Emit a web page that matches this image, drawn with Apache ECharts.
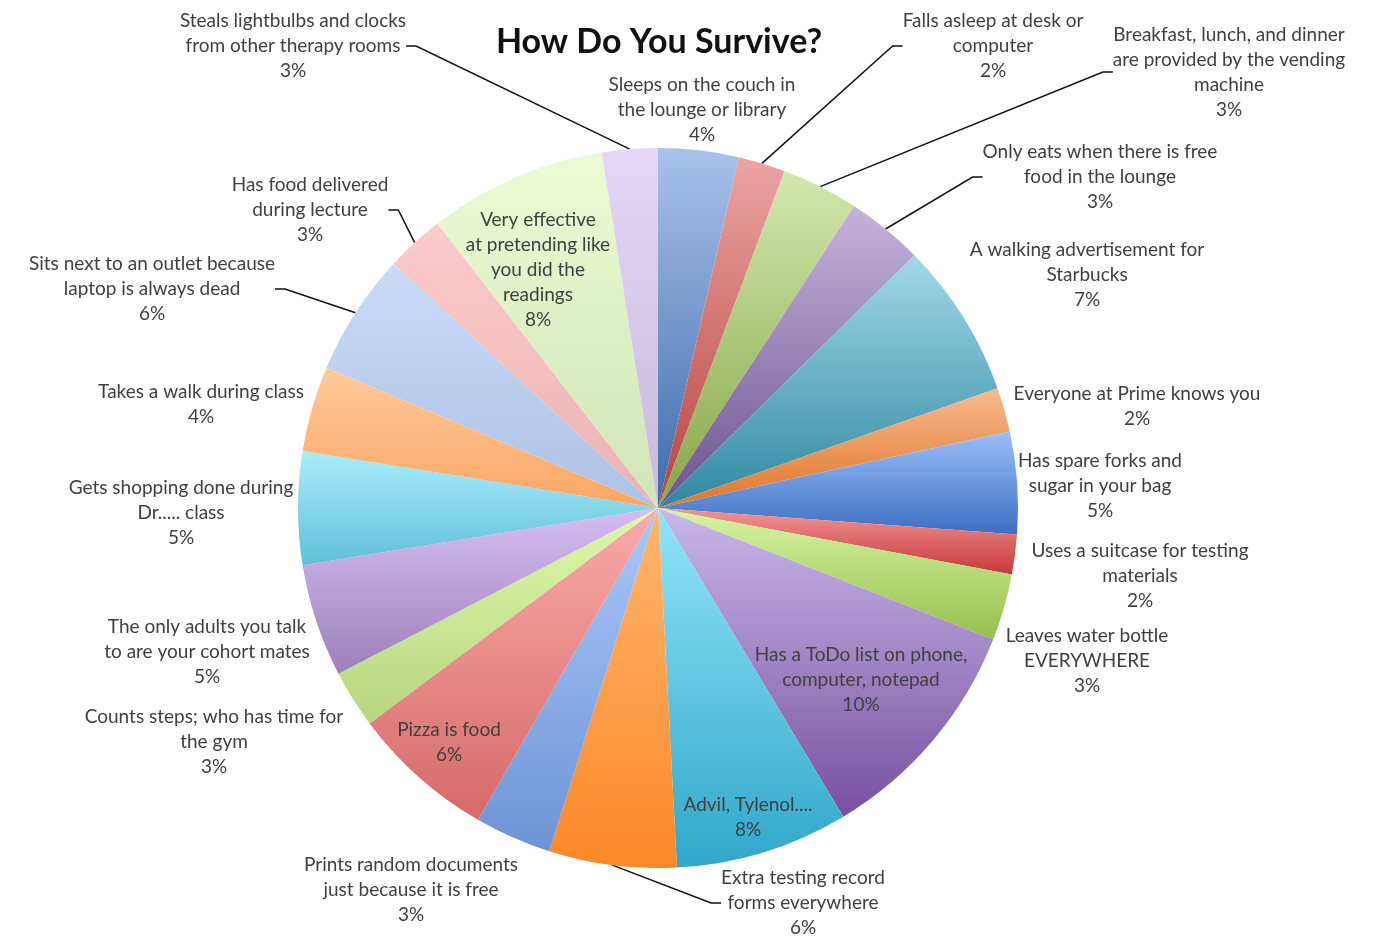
<!DOCTYPE html>
<html>
<head>
<meta charset="utf-8">
<title>How Do You Survive?</title>
<script src="https://cdn.jsdelivr.net/npm/echarts@6/dist/echarts.min.js"></script>
<style>
  html, body { margin: 0; padding: 0; background: #fff; }
  #chart { width: 1382px; height: 938px; }
</style>
</head>
<body>
<div id="chart"></div>
<script>
// answers, clockwise from 12 o'clock
var habits = [
  'Sleeps on the couch in\nthe lounge or library',
  'Falls asleep at desk or\ncomputer',
  'Breakfast, lunch, and dinner\nare provided by the vending\nmachine',
  'Only eats when there is free\nfood in the lounge',
  'A walking advertisement for\nStarbucks',
  'Everyone at Prime knows you',
  'Has spare forks and\nsugar in your bag',
  'Uses a suitcase for testing\nmaterials',
  'Leaves water bottle\nEVERYWHERE',
  'Has a ToDo list on phone,\ncomputer, notepad',
  'Advil, Tylenol....',
  'Extra testing record\nforms everywhere',
  'Prints random documents\njust because it is free',
  'Pizza is food',
  'Counts steps; who has time for\nthe gym',
  'The only adults you talk\nto are your cohort mates',
  'Gets shopping done during\nDr..... class',
  'Takes a walk during class',
  'Sits next to an outlet because\nlaptop is always dead',
  'Has food delivered\nduring lecture',
  'Very effective\nat pretending like\nyou did the\nreadings',
  'Steals lightbulbs and clocks\nfrom other therapy rooms'
];
// percent of answers (labels show them rounded)
var shares = [3.61, 2.11, 3.45, 3.45, 6.99, 2.0, 4.58, 1.78, 3.0, 10.45, 7.77,
              5.73, 3.45, 6.46, 2.59, 5.08, 5.08, 3.84, 5.5, 2.64, 8.0, 2.5];

// which labels sit inside the slice / get a leader line
var insideLabel = [10, 11, 14, 21];   // 1-based slice numbers
var leaderLine = [2, 3, 4, 12, 19, 20, 22];

// label block centres (px)
var labelSpots = [
  [702, 110], [993, 46], [1229, 72], [1100, 177], [1087, 275], [1137, 406],
  [1100, 486], [1140, 576], [1087, 661], [861, 680], [748, 817], [803, 903],
  [411, 890], [449, 742], [214, 742], [207, 652], [181, 513], [201, 404],
  [152, 289], [310, 210], [538, 270], [293, 46]
];

// slice fills: [top, bottom]
var fills = [
  ['#a9c2ea', '#3d6aab'], ['#eca4a2', '#b64541'], ['#d3e7ae', '#86a648'],
  ['#c4b4dc', '#6b5390'], ['#a2d8e9', '#2e88a0'], ['#f8ba8e', '#de7628'],
  ['#9dbefa', '#3a70c2'], ['#f29696', '#c6383a'], ['#d8f4a2', '#94c04c'],
  ['#c9b8e8', '#7750a0'], ['#92e4f9', '#31a7ca'], ['#ffb66e', '#fb8828'],
  ['#abc7f8', '#6d94d6'], ['#fbaaaa', '#d46a69'], ['#ddf8aa', '#b7d680'],
  ['#d5bef1', '#9d80ba'], ['#aaedfc', '#60c0d9'], ['#ffca9a', '#fca664'],
  ['#cadaf8', '#aec2e5'], ['#fccbcb', '#ebb3b3'], ['#ecfbd4', '#d2e3b6'],
  ['#e3d7f5', '#c6bbdb']
];

var chart = echarts.init(document.getElementById('chart'));

var pieData = habits.map(function (name, i) {
  var n = i + 1;
  return {
    name: name,
    value: shares[i],
    itemStyle: {
      color: new echarts.graphic.LinearGradient(0, 0, 0, 1, [
        { offset: 0, color: fills[i][0] },
        { offset: 1, color: fills[i][1] }
      ])
    },
    label: { position: insideLabel.indexOf(n) >= 0 ? 'inside' : 'outside' },
    labelLine: { show: leaderLine.indexOf(n) >= 0 }
  };
});

chart.setOption({
  animation: false,
  title: {
    text: 'How Do You Survive?',
    left: 654,
    top: 20,
    textAlign: 'center',
    textStyle: {
      fontFamily: 'Lato',
      fontSize: 34,
      fontWeight: 'bold',
      color: '#111'
    }
  },
  series: [{
    type: 'pie',
    center: [658, 508],
    radius: 360,
    startAngle: 90,
    clockwise: true,
    avoidLabelOverlap: false,
    data: pieData,
    itemStyle: { borderWidth: 0 },
    label: {
      formatter: function (p) {
        return p.name + '\n' + Math.round(p.value) + '%';
      },
      fontFamily: 'Lato',
      fontSize: 19,
      lineHeight: 25,
      color: '#404040',
      align: 'center'
    },
    labelLine: {
      length: 20,
      length2: 10,
      lineStyle: { color: '#111', width: 1.5 }
    },
    labelLayout: function (params) {
      var p = labelSpots[params.dataIndex];
      return {
        x: p[0],
        y: p[1],
        align: 'center',
        verticalAlign: 'middle',
        hideOverlap: false
      };
    }
  }]
});
</script>
</body>
</html>
